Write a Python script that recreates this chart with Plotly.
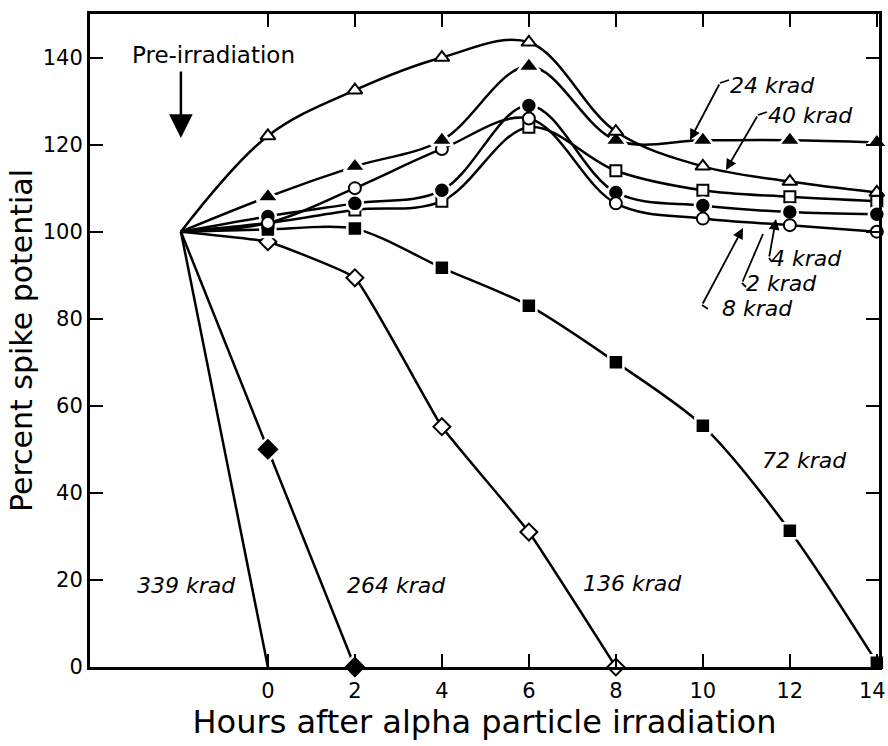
import plotly.graph_objects as go

# ---- data ----
hours = [-2, 0, 2, 4, 6, 8, 10, 12, 14]
k24 = [100, 108, 115, 121, 138, 121, 121, 121, 120.5]      # filled triangle
k40 = [100, 122, 132.5, 140, 143.5, 123, 115, 111.5, 109]  # open triangle
k8 = [100, 102, 110, 119, 126, 106.5, 103, 101.5, 100]     # open circle
k4 = [100, 103.5, 106.5, 109.5, 129, 109, 106, 104.5, 104] # filled circle
k2 = [100, 102, 105, 107, 124, 114, 109.5, 108, 107]       # open square
k72 = [100, 100.5, 100.7, 91.7, 83, 70, 55.4, 31.3, 1]     # filled square
hours136 = [-2, 0, 2, 4, 6, 8]
k136 = [100, 97.7, 89.4, 55.2, 31, 0]                      # open diamond
hours264 = [-2, 0, 2]
k264 = [100, 50, 0]                                        # filled diamond
hours339 = [-2, 0]
k339 = [100, 0]

x_ticks = [0, 2, 4, 6, 8, 10, 12, 14]
y_ticks = [0, 20, 40, 60, 80, 100, 120, 140]

FONT = "DejaVu Sans"
BLACK = "black"

# plot geometry (pixels) used for placing annotations
L, R, T, B = 90, 879, 14, 667
XR = [-4.09, 14.05]
YR = [0, 150]


def px2x(px):
    return XR[0] + (px - L) / (R - L) * (XR[1] - XR[0])


def py2y(py):
    return YR[0] + (B - py) / (B - T) * (YR[1] - YR[0])


fig = go.Figure()


def add(xs, ys, symbol, filled, size, shape="spline", smoothing=1.0, name=""):
    sizes = [0] + [size] * (len(xs) - 1)   # no marker at the pre-irradiation point
    if symbol is None:
        marker = dict(size=1, opacity=0)
        mode = "lines"
    else:
        if filled:
            marker = dict(symbol=symbol, size=sizes, color=BLACK, opacity=1,
                          line=dict(color="white", width=2.5))
        else:
            marker = dict(symbol=symbol, size=sizes, color="white", opacity=1,
                          line=dict(color=BLACK, width=2))
        mode = "lines+markers"
    fig.add_trace(go.Scatter(
        x=xs, y=ys, mode=mode, name=name,
        line=dict(color=BLACK, width=2.5, shape=shape, smoothing=smoothing),
        marker=marker, cliponaxis=False, showlegend=False))


add(hours339, k339, None, False, 0, shape="linear", name="339 krad")
add(hours264, k264, "diamond", True, 19, shape="linear", name="264 krad")
add(hours136, k136, "diamond", False, 13, smoothing=0.3, name="136 krad")
add(hours, k72, "square", True, 15, smoothing=0.8, name="72 krad")
add(hours, k2, "square", False, 11, name="2 krad")
add(hours, k4, "circle", True, 16, name="4 krad")
add(hours, k8, "circle", False, 12, name="8 krad")
add(hours, k24, "triangle-up", True, 19, name="24 krad")
add(hours, k40, "triangle-up", False, 13, name="40 krad")

ann = []
lab_font = dict(family=FONT, size=22, color=BLACK, style="italic")


def label(text, cx, cy):
    ann.append(dict(x=px2x(cx), y=py2y(cy), xref="x", yref="y", text=text,
                    showarrow=False, font=lab_font, xanchor="center",
                    yanchor="middle"))


def leader(tail, tip, head=True):
    ann.append(dict(x=px2x(tip[0]), y=py2y(tip[1]), xref="x", yref="y",
                    ax=px2x(tail[0]), ay=py2y(tail[1]), axref="x", ayref="y",
                    text="", showarrow=True, arrowhead=2 if head else 0,
                    arrowsize=1.2, arrowwidth=1.8, arrowcolor=BLACK))


shapes = []


def seg(p0, p1):
    shapes.append(dict(type="line", xref="x", yref="y",
                       x0=px2x(p0[0]), y0=py2y(p0[1]),
                       x1=px2x(p1[0]), y1=py2y(p1[1]),
                       line=dict(color=BLACK, width=1.8)))


label("24 krad", 772, 85)
seg((720, 83), (729, 80))
leader((720, 83), (690, 140))

label("40 krad", 810, 115)
seg((758, 115), (767, 112))
leader((758, 115), (726, 170))

label("4 krad", 806, 258)
seg((769, 258), (772, 262))
leader((769, 258), (776, 219))

label("2 krad", 781, 283)
seg((742, 283), (746, 287))
leader((742, 283), (763, 234), head=False)

label("8 krad", 757, 308)
seg((702, 305), (708, 309))
leader((702, 305), (743, 228))

label("339 krad", 186, 585)
label("264 krad", 396, 585)
label("136 krad", 632, 583)
label("72 krad", 804, 460)

# pre-irradiation
ann.append(dict(x=px2x(213), y=py2y(55), xref="x", yref="y",
                text="Pre-irradiation", showarrow=False,
                font=dict(family=FONT, size=23, color=BLACK)))
ann.append(dict(x=-2, y=py2y(138), xref="x", yref="y",
                ax=-2, ay=py2y(70), axref="x", ayref="y", text="",
                showarrow=True, arrowhead=2, arrowsize=1.9, arrowwidth=2.5,
                arrowcolor=BLACK))

# last x tick label sits at the right edge; draw it right-anchored so it stays visible
x_ticktext = [str(v) for v in x_ticks]
last_label = x_ticktext[-1]
x_ticktext[-1] = ""
ann.append(dict(x=1.0, xref="paper", y=0, yref="paper", yshift=-10,
                text=last_label, showarrow=False, xanchor="right", yanchor="top",
                xshift=9, font=dict(family=FONT, size=21, color=BLACK)))

axis_common = dict(showline=True, linecolor=BLACK, linewidth=3,
                   mirror="ticks", ticks="inside", ticklen=13, tickwidth=2,
                   tickcolor=BLACK, showgrid=False, zeroline=False,
                   automargin=False, ticklabeloverflow="allow",
                   tickfont=dict(family=FONT, size=21, color=BLACK))

fig.update_layout(
    width=888, height=746,
    margin=dict(l=L, r=888 - R, t=T, b=746 - B),
    paper_bgcolor="white", plot_bgcolor="white",
    xaxis=dict(range=XR, tickvals=x_ticks, ticktext=x_ticktext,
               ticklabelstandoff=3,
               title=dict(text="Hours after alpha particle irradiation",
                          font=dict(family=FONT, size=32, color=BLACK),
                          standoff=2),
               **axis_common),
    yaxis=dict(range=YR, tickvals=y_ticks, ticktext=[str(v) for v in y_ticks],
               ticklabelstandoff=0,
               title=dict(text="Percent spike potential",
                          font=dict(family=FONT, size=30, color=BLACK),
                          standoff=2),
               **axis_common),
    annotations=ann, shapes=shapes,
)

fig.write_html("out.html")
